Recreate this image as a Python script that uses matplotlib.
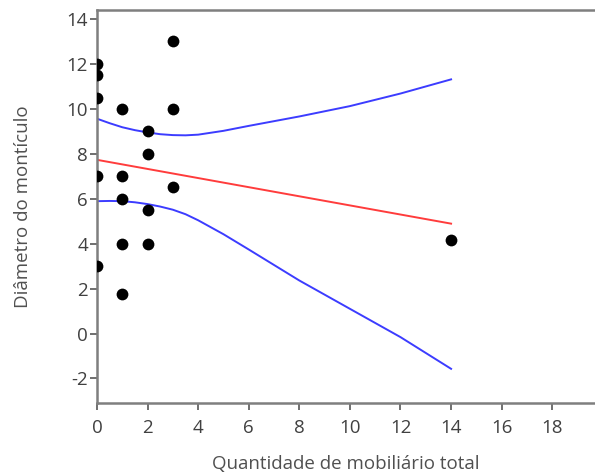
import matplotlib.pyplot as plt

plt.rcParams['font.family'] = ['Open Sans', 'DejaVu Sans']
plt.rcParams['axes.unicode_minus'] = False

# scatter data
x_pts = [0, 0, 0, 0, 0, 1, 1, 1, 1, 1, 2, 2, 2, 2, 3, 3, 3, 14]
y_pts = [12, 11.5, 10.5, 7, 3, 10, 7, 6, 4, 1.75, 9, 8, 5.5, 4, 13, 10, 6.5, 4.15]

# fitted line
fit_x = [0, 14]
fit_y = [7.73, 4.89]

# confidence bands
band_x = [0, 0.5, 1, 1.5, 2, 2.5, 3, 3.5, 4, 5, 6, 7, 8, 10, 12, 14]
upper = [9.56, 9.36, 9.18, 9.05, 8.95, 8.87, 8.83, 8.82, 8.85, 9.02, 9.24, 9.45,
         9.66, 10.12, 10.68, 11.31]
lower = [5.89, 5.90, 5.89, 5.84, 5.76, 5.65, 5.51, 5.31, 5.04, 4.42, 3.74, 3.05,
         2.36, 1.10, -0.16, -1.57]

xticks = [0, 2, 4, 6, 8, 10, 12, 14, 16, 18]
yticks = [-2, 0, 2, 4, 6, 8, 10, 12, 14]

fig = plt.figure(figsize=(5.95, 4.73), dpi=100)
ax = fig.add_axes([0.163, 0.149, 0.837, 0.830])

ax.plot(band_x, upper, color='#3c3cff', lw=1.4)
ax.plot(band_x, lower, color='#3c3cff', lw=1.4)
ax.plot(fit_x, fit_y, color='#ff3c3c', lw=1.4)
ax.scatter(x_pts, y_pts, s=72, color='black', zorder=3, linewidths=0)

ax.set_xlim(0, 19.69)
ax.set_ylim(-3.07, 14.4)
ax.set_xticks(xticks)
ax.set_yticks(yticks)

for side in ['left', 'bottom', 'top']:
    ax.spines[side].set_color('#7f7f7f')
    ax.spines[side].set_linewidth(1.8)
ax.spines['right'].set_visible(False)

ax.tick_params(axis='both', colors='#6f6f6f', width=1.4, length=5,
               labelcolor='#404040', labelsize=13.5)
ax.tick_params(axis='x', pad=7)
ax.tick_params(axis='y', pad=1.5)

ax.set_xlabel('Quantidade de mobiliário total', fontsize=13.5, color='#505050', labelpad=13)
ax.set_ylabel('Diâmetro do montículo', fontsize=13.5, color='#505050', labelpad=25)

fig.savefig('out.png', dpi=100)
